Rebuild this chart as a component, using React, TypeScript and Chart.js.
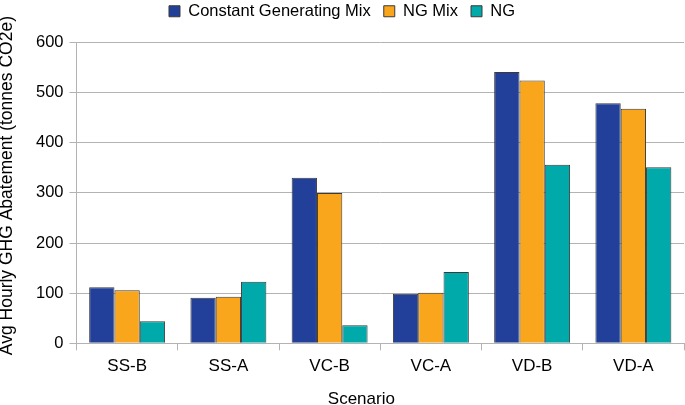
import React, { useEffect, useRef } from "react";
import { Chart, registerables } from "chart.js";

Chart.register(...registerables);

const categories = ["SS-B", "SS-A", "VC-B", "VC-A", "VD-B", "VD-A"];
const constantGeneratingMix = [112, 91, 330, 99, 541, 479];
const ngMix = [106, 93, 300, 101, 524, 468];
const ng = [44, 123, 36, 142, 356, 351];
const yTicks = [0, 100, 200, 300, 400, 500, 600];

const FONT = "'Liberation Sans', Arial, sans-serif";
const GRID = "#b3b3b3";

const legendShift = {
  id: "legendShift",
  beforeInit(chart: any) {
    const legend = chart.legend;
    if (!legend || legend.__patched) return;
    const orig = legend.fit;
    legend.fit = function () {
      orig.call(this);
      this.height += 13;
    };
    legend.__patched = true;
  },
};

export default function App() {
  const ref = useRef<HTMLCanvasElement | null>(null);

  useEffect(() => {
    document.body.style.margin = "0";
    const canvas = ref.current;
    if (!canvas) return;
    const chart = new Chart(canvas, {
      type: "bar",
      data: {
        labels: categories,
        datasets: [
          {
            label: "Constant Generating Mix",
            data: constantGeneratingMix,
            backgroundColor: "#22409a",
            borderColor: "#3a3a3a",
            borderWidth: 1,
          },
          {
            label: "NG Mix",
            data: ngMix,
            backgroundColor: "#f9a61c",
            borderColor: "#3a3a3a",
            borderWidth: 1,
          },
          {
            label: "NG",
            data: ng,
            backgroundColor: "#00a9aa",
            borderColor: "#3a3a3a",
            borderWidth: 1,
          },
        ],
      },
      options: {
        responsive: false,
        animation: false,
        devicePixelRatio: 1,
        layout: { padding: { top: -10, right: 1, left: 0, bottom: 0 } },
        datasets: {
          bar: { categoryPercentage: 0.75, barPercentage: 1.0 },
        },
        plugins: {
          legend: {
            position: "top",
            labels: {
              boxWidth: 11,
              boxHeight: 11,
              padding: 13,
              color: "#000",
              font: { family: FONT, size: 16.5 },
            },
          },
          tooltip: { enabled: false },
        },
        scales: {
          x: {
            offset: true,
            grid: {
              offset: true,
              tickLength: 7,
              color: (ctx: any) =>
                ctx.index === categories.length ? GRID : "rgba(0,0,0,0)",
              tickColor: GRID,
            },
            border: { display: true, color: GRID },
            ticks: {
              color: "#000",
              padding: 6,
              font: { family: FONT, size: 17 },
            },
            title: {
              display: true,
              text: "Scenario" + "\u00a0".repeat(8),
              color: "#000",
              font: { family: FONT, size: 17 },
              padding: { top: 10, bottom: -5 },
            },
            afterFit: (scale: any) => {
              scale.height = 61.7;
            },
          },
          y: {
            min: 0,
            max: 600,
            afterBuildTicks: (scale: any) => {
              scale.ticks = yTicks.map((v) => ({ value: v }));
            },
            grid: { color: GRID, tickLength: 7, tickColor: GRID },
            border: { display: true, color: GRID },
            ticks: {
              color: "#000",
              padding: 6,
              font: { family: FONT, size: 16.5 },
            },
            title: {
              display: true,
              text: "\u00a0".repeat(3) + "Avg Hourly GHG Abatement (tonnes CO2e)",
              color: "#000",
              font: { family: FONT, size: 17.5 },
              padding: { top: -3, bottom: 4 },
            },
            afterFit: (scale: any) => {
              scale.width = 76.5;
            },
          },
        },
      },
      plugins: [legendShift],
    });
    return () => chart.destroy();
  }, []);

  return (
    <div style={{ width: 685, height: 405 }}>
      <canvas ref={ref} width={685} height={405} />
    </div>
  );
}
